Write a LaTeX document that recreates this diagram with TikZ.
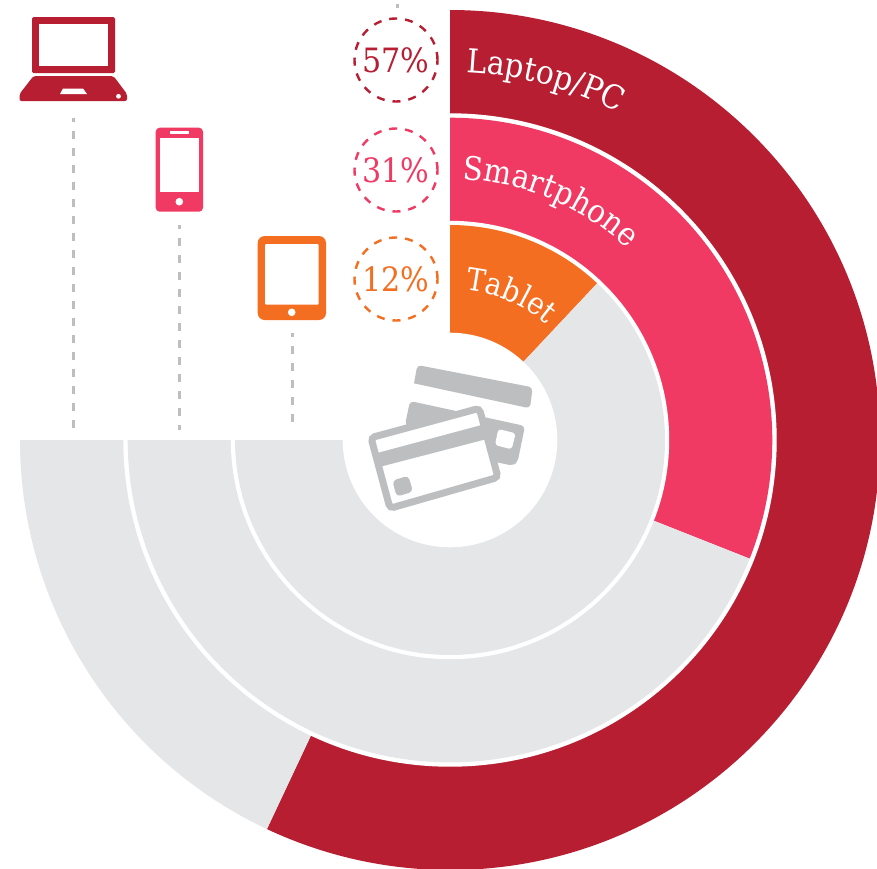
\documentclass[tikz,border=0pt]{standalone}
\usepackage{fontspec}
\usetikzlibrary{decorations.text,calc}
\newfontfamily\labfont[FakeStretch=0.9]{DejaVu Serif}
\definecolor{cred}{HTML}{B71E32}
\definecolor{cpink}{HTML}{F03A63}
\definecolor{corange}{HTML}{F46E21}
\definecolor{cgray}{HTML}{E5E6E8}
\definecolor{cdash}{HTML}{BDBEC0}
\newcommand{\sector}[4]{\fill[#1] (c) -- ($(c)+(#2:#4)$) arc[start angle=#2,end angle=#3,radius=#4] -- cycle;}
\newcommand{\curvedlabel}[4]{\path[decorate,decoration={text along path,text align=left,text={|\labfont\fontsize{#4}{#4}\selectfont\color{white}|#3}}] ($(c)+(#1:#2)$) arc[start angle=#1,delta angle=70,radius=#2];}
\tikzset{
  pct/.style={circle,draw=#1,text=#1,line width=2.4pt,dash pattern=on 8pt off 8pt,minimum size=83pt,inner sep=0pt,font=\labfont\fontsize{33.5}{33.5}\selectfont},
  leader/.style={draw=cdash,line width=3pt,dash pattern=on 8pt off 9pt,dash phase=4pt},
  cardgray/.style={fill=cdash,rounded corners=4pt}
}
\begin{document}
\begin{tikzpicture}[x=1pt,y=-1pt]
\useasboundingbox (0,0) rectangle (877,868);
\clip (0,0) rectangle (877,868);
\fill[white] (0,0) rectangle (877,868);
\coordinate (c) at (450,440);
% rings
\sector{cred}{-90}{115.2}{430}
\sector{cgray}{115.2}{180}{430}
\sector{white}{-90}{180}{326.7}
\sector{cpink}{-90}{21.6}{322.3}
\sector{cgray}{21.6}{180}{322.3}
\sector{white}{-90}{180}{219.2}
\sector{corange}{-90}{-46.8}{215}
\sector{cgray}{-46.8}{180}{215}
\fill[white] (c) circle[radius=107.3];
% curved labels
\curvedlabel{-87.4}{368}{Laptop/PC}{33}
\curvedlabel{-87.2}{261}{Smartphone}{32.5}
\curvedlabel{-84.2}{151}{Tablet}{31}
% percent circles
\node[pct=cred] (p57) at (396,60) {57\%};
\node[pct=cpink] (p31) at (396,170) {31\%};
\node[pct=corange] (p12) at (396,279) {12\%};
% leader ends
\coordinate (la) at (73,118);  \coordinate (lb) at (73,430);
\coordinate (pa) at (179,225); \coordinate (pb) at (179,430);
\coordinate (ta) at (292,333); \coordinate (tb) at (292,430);
\coordinate (ua) at (397,4);   \coordinate (ub) at (397,8);
\draw[leader] (la) -- (lb);
\draw[leader] (pa) -- (pb);
\draw[leader] (ta) -- (tb);
\draw[draw=cdash,line width=3pt] (ua) -- (ub);
% laptop
\fill[cred,rounded corners=1.5pt] (32,17) rectangle (115,73);
\fill[white] (39,24) rectangle (108,66);
\fill[cred,rounded corners=2pt] (33.5,76) -- (113.5,76) -- (127,94) -- (127,101) -- (19.5,101) -- (19.5,94) -- cycle;
\fill[white] (63,88.5) -- (83,88.5) -- (87,94) -- (60,94) -- cycle;
\fill[white] (118.5,96.3) circle[radius=2.4];
% phone
\fill[cpink,rounded corners=4pt] (155.7,127.7) rectangle (203,211.7);
\fill[white] (160.3,138) rectangle (198.7,192.3);
\fill[white] (170,131.3) rectangle (189,134.3);
\fill[white] (179.3,201.7) circle[radius=3.8];
% tablet
\fill[corange,rounded corners=7pt] (257.7,236) rectangle (326,320);
\fill[white,rounded corners=1pt] (265,244) rectangle (318.7,304.7);
\fill[white] (291.7,312.3) circle[radius=3.8];
% cards (coordinates of a 3x crop)
\begin{scope}[shift={(340,350)},x=0.3333pt,y=-0.3333pt]
  \fill[cardgray] (222,100) -- (232,45) -- (578,112) -- (570,175) [sharp corners] -- cycle;
  \fill[cardgray] (210,153) -- (195,225) -- (300,300) -- (475,338) -- (520,347) -- (533,335) -- (555,228) -- cycle;
  \fill[white,rounded corners=3pt] (475,237) -- (527,250) -- (515,298) -- (465,285) -- cycle;
  \draw[draw=cdash,fill=white,line width=7pt,rounded corners=4pt] (93,263) -- (418,175) -- (474,382) -- (150,475) -- cycle;
  \fill[cdash] (108,310) -- (425,225) -- (437,268) -- (122,350) -- cycle;
  \fill[cardgray] (157,392) -- (205,377) -- (219,425) -- (170,440) -- cycle;
\end{scope}
\end{tikzpicture}
\end{document}
